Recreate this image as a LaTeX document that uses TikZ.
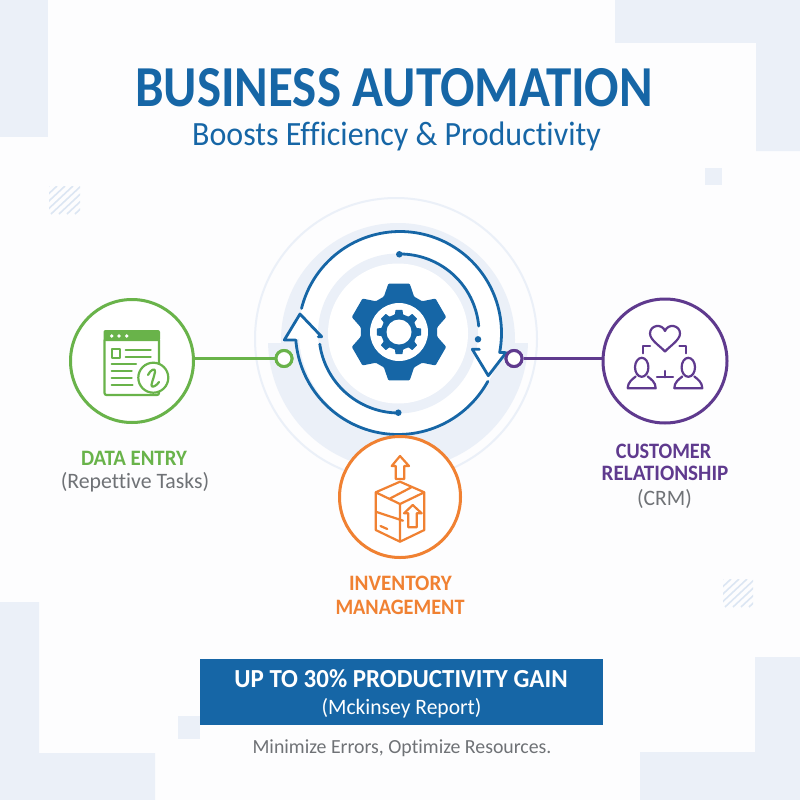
\documentclass[tikz,border=0pt]{standalone}
\usepackage{fontspec}
\setmainfont[Ligatures=NoCommon]{Carlito}
\definecolor{pale}{HTML}{EBF0F8}
\definecolor{palehatch}{HTML}{DCE6F3}
\definecolor{bgc}{HTML}{FDFDFE}
\definecolor{bluec}{HTML}{1666A6}
\definecolor{greenc}{HTML}{69B34A}
\definecolor{purplec}{HTML}{5F3A8E}
\definecolor{orangec}{HTML}{F08132}
\definecolor{greyc}{HTML}{6F7276}
\newcommand{\fs}[2]{\fontsize{#1}{#1}\selectfont\addfontfeature{FakeStretch=#2}}
\newcommand{\fb}[2]{\fontsize{#1}{#1}\bfseries\selectfont\addfontfeature{FakeStretch=#2}}
\tikzset{
  txt/.style={inner sep=0pt,anchor=base},
  ringnode/.style={circle,draw=#1,fill=white,line width=3pt,minimum size=121pt,inner sep=0pt},
  portring/.style={circle,draw=#1,fill=white,line width=3pt,minimum size=16pt,inner sep=0pt},
  dotnode/.style={circle,fill=bluec,minimum size=6.5pt,inner sep=0pt},
  link/.style={draw=#1,line width=2.8pt},
  bluearc/.style={draw=bluec,line width=2.8pt,line join=round,line cap=round},
  icon/.style={draw=#1,line width=2.2pt,line join=round,line cap=round},
  hatch/.style={draw=palehatch,line width=1.6pt},
}
\begin{document}
\begin{tikzpicture}[x=1pt,y=-1pt]
\useasboundingbox (0,0) rectangle (800,800);
\fill[bgc] (0,0) rectangle (800,800);
% background blocks
\fill[pale] (0,0) rectangle (48,137);
\fill[pale] (615,0) -- (800,0) -- (800,151) -- (756,151) -- (756,43) -- (615,43) -- cycle;
\fill[pale] (705,168) rectangle (722,185);
\fill[pale] (0,602) -- (39,602) -- (39,753) -- (155,753) -- (155,800) -- (0,800) -- cycle;
\fill[pale] (178,716) rectangle (200,739);
\fill[pale] (755,657) -- (800,657) -- (800,800) -- (640,800) -- (640,752) -- (755,752) -- cycle;
\begin{scope}
\clip (49,186) rectangle (80,214);
\foreach \k in {0,8,...,64}{\draw[hatch] (49+\k-30,214) -- (49+\k,186);}
\end{scope}
\begin{scope}
\clip (723,579) rectangle (753,607);
\foreach \k in {0,8,...,64}{\draw[hatch] (723+\k-30,607) -- (723+\k,579);}
\end{scope}
% halo
\draw[pale,line width=2pt] (396,339) circle (141pt);
\fill[pale] (398,340) circle (117pt);
\begin{scope}
\clip (260,343) rectangle (540,490);
\fill[pale] (398,340) circle (130pt);
\end{scope}
\fill[white] (400,333) circle (101pt);
\fill[pale] (398,333.5) circle (80pt);
\fill[white] (398,333.5) circle (70pt);
% arrow heads white
\fill[white] (506,352.7) -- (488.3,375.7) -- (472.3,349.3) -- cycle;
% connectors
\node[portring=greenc] (gport) at (284,358.5) {};
\node[portring=purplec] (pport) at (514,358.5) {};
% cycle arrows
\draw[bluearc] plot[domain=194:371,samples=80] ({400+101.5*cos(\x)},{333+101.5*sin(\x)})
   -- (506,352.7) -- (488.3,375.7) -- (472.3,349.3) -- (479.3,349.3);
\draw[bluearc] plot[domain=-90:-5,samples=50] ({400+79*cos(\x)},{333+79*sin(\x)});
\draw[bluearc] plot[domain=175.5:28.8,samples=80] ({398+102.5*cos(\x)},{332+102.5*sin(\x)});
\fill[white] (300,314) -- (284.3,340) -- (321.7,336.7) -- cycle;
\draw[bluearc] (295.5,340) -- (284.3,340) -- (300,314) -- (321.7,336.7) -- (318.3,336.7);
\draw[bluearc] plot[domain=172:90,samples=50] ({399+80*cos(\x)},{333+80*sin(\x)});
\node[dotnode] (d1) at (399.3,254.3) {};
\node[dotnode] (d2) at (478,339.3) {};
\node[dotnode] (d3) at (398.3,412.7) {};
\node[portring=greenc] at (gport) {};
\node[portring=purplec] at (pport) {};
% gear
\begin{scope}[shift={(399,332)}]
\fill[bluec,rounded corners=1pt] (-113:38.5)
  \foreach \a in {-90,-30,30,90,150,210}{ -- (\a-23:38.5) -- (\a-12.5:49.5) -- (\a+12.5:49.5) -- (\a+23:38.5)} -- cycle;
\fill[white] (0,0) circle (29pt);
\fill[bluec,rounded corners=.6pt] (-104:18)
  \foreach \a in {-90,-45,0,45,90,135,180,225}{ -- (\a-13:18) -- (\a-9:22.5) -- (\a+9:22.5) -- (\a+13:18)} -- cycle;
\fill[white] (0,0) circle (12.5pt);
\end{scope}
% main rings
\node[ringnode=greenc,minimum size=123pt] (data) at (132,361) {};
\node[ringnode=purplec,minimum size=124pt] (crm) at (665,361) {};
\node[ringnode=orangec] (inv) at (400,497) {};
\draw[link=greenc] (data.east |- gport.west) -- (gport.west);
\draw[link=purplec] (pport.east) -- (pport.east -| crm.west);
% data entry icon
\draw[icon=greenc,rounded corners=2pt] (104.5,340) -- (104.5,395) -- (159,395) -- (159,340);
\fill[greenc,rounded corners=2pt] (103.5,330) rectangle (160,341);
\foreach \px in {111.7,119,126.7}{\fill[white] (\px,336) circle (1.9pt);}
\draw[icon=greenc,line width=1.8pt] (111.7,349.3) rectangle (120,357.7);
\foreach \xa/\xb/\yy in {125.7/150.7/350,125.7/150.7/356.7,111.7/136/364,111.7/131.7/371,111.7/131.7/378.3,111.7/132.5/385}{
  \draw[icon=greenc] (\xa,\yy) -- (\xb,\yy);}
\draw[icon=greenc,fill=white] (153.3,377.7) circle (15pt);
\draw[icon=greenc] (148,375) .. controls (150,370) and (156,367) .. (155,372)
   .. controls (154,378) and (150,386) .. (152,386.5) .. controls (154,387) and (157,385) .. (159,382);
% crm icon
\draw[icon=purplec] (665,351.5) .. controls (660,346) and (650,340) .. (650,333.5)
   .. controls (650,325) and (662,323) .. (665,331) .. controls (668,323) and (680,325) .. (680,333.5)
   .. controls (680,340) and (670,346) .. (665,351.5) -- cycle;
\draw[icon=purplec] (643.3,353.3) -- (643.3,346) -- (650,346);
\draw[icon=purplec] (679.5,346) -- (686,346) -- (686,353.3);
\foreach \cx in {641.7,688.3}{
  \draw[icon=purplec] (\cx,367.3) ellipse (6.7pt and 9.5pt);
  \draw[icon=purplec] (\cx-14,388.3) -- (\cx+14,388.3) .. controls (\cx+14,382) and (\cx+9,379) .. (\cx+6,376.5)
    (\cx-6,376.5) .. controls (\cx-9,379) and (\cx-14,382) .. (\cx-14,388.3);
}
\draw[icon=purplec] (657,377.3) -- (673,377.3) (665,371) -- (665,377.3);
% inventory icon
\draw[icon=orangec] (400,481.7) -- (375.7,492.3) -- (400,504) -- (424.3,492.3) -- cycle
  (375.7,492.3) -- (375.7,530) -- (400,541.7) -- (424.3,530) -- (424.3,492.3)
  (400,504) -- (400,541.7)
  (390,498.5) -- (411,487.5)
  (375.7,511.7) -- (403,520.7)
  (380.5,526) -- (387.3,529);
\draw[icon=orangec] (412.7,505) -- (404,513.3) -- (408.3,513.3) -- (408.3,527.3) -- (416.7,527.3) -- (416.7,513.3) -- (421.7,513.3) -- cycle;
\draw[icon=orangec] (400,456) -- (391.7,466) -- (395.7,466) -- (395.7,479) -- (404.3,479) -- (404.3,466) -- (409,466) -- cycle;
% banner
\node[draw=none,fill=bluec,minimum width=403pt,minimum height=65.5pt,inner sep=0pt] (banner) at (401,692) {};
% text
\node[txt,text=bluec,font=\fb{58}{0.88}] (t1) at (394,106) {BUSINESS AUTOMATION};
\node[txt,text=bluec,font=\fs{34}{0.94}] (t2) at (396.5,145) {Boosts Efficiency \& Productivity};
\node[txt,text=greenc,font=\fb{22}{0.946}] (t3) at (134,465) {DATA ENTRY};
\node[txt,text=greyc,font=\fs{22}{0.99}] (t4) at (135,488) {(Repettive Tasks)};
\node[txt,text=purplec,font=\fb{22}{0.92}] (t5) at (663.5,458) {CUSTOMER};
\node[txt,text=purplec,font=\fb{22}{0.96}] (t6) at (665,480) {RELATIONSHIP};
\node[txt,text=greyc,font=\fs{22}{0.98}] (t7) at (664.5,505) {(CRM)};
\node[txt,text=orangec,font=\fb{22}{0.96}] (t8) at (400.5,590.5) {INVENTORY};
\node[txt,text=orangec,font=\fb{22}{0.92}] (t9) at (400,614) {MANAGEMENT};
\node[txt,text=white,font=\fb{26}{0.96}] (t10) at (401,687) {UP TO 30\% PRODUCTIVITY GAIN};
\node[txt,text=white,font=\fs{22}{0.98}] (t11) at (401.5,714) {(Mckinsey Report)};
\node[txt,text=greyc,font=\fs{20}{0.99}] (t12) at (402,753) {Minimize Errors, Optimize Resources.};
\end{tikzpicture}
\end{document}
